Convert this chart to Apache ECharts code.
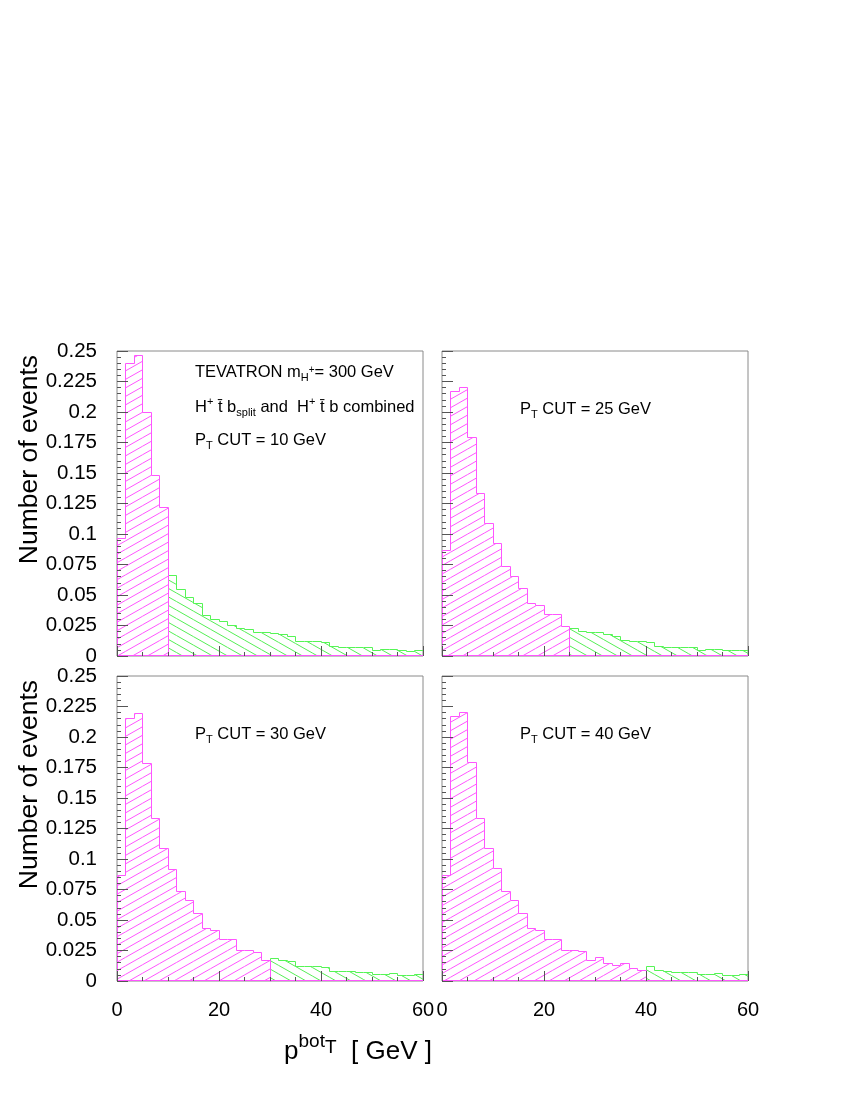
<!DOCTYPE html>
<html>
<head>
<meta charset="utf-8">
<script src="https://cdn.jsdelivr.net/npm/echarts@6/dist/echarts.min.js"></script>
<style>
  html, body { margin: 0; padding: 0; background: #fff; }
  #chart { width: 850px; height: 1100px; }
</style>
</head>
<body>
<div id="chart"></div>
<script>
// pT of the bottom quark, 36 bins over 0..60 GeV
const binCount = 36
const xMin = 0
const xMax = 60
const yMax = 0.25

const cutValues = [10, 25, 30, 40]

const cut10 = [0.0965, 0.240, 0.246, 0.200, 0.148, 0.1216,
  0.0661, 0.0546, 0.0481, 0.0429, 0.0336, 0.0301, 0.0281, 0.0251, 0.0224, 0.0219,
  0.0194, 0.0191, 0.0186, 0.0178, 0.0156, 0.0117, 0.0115, 0.0115, 0.0109, 0.0077,
  0.0071, 0.0068, 0.0068, 0.0066, 0.0046, 0.0055, 0.0055, 0.0046, 0.0038, 0.0046]
const cut25 = [0.0866, 0.2166, 0.2198, 0.1787, 0.133, 0.109, 0.0921, 0.0735, 0.065,
  0.0555, 0.0432, 0.041, 0.0342, 0.0342, 0.024,
  0.0227, 0.0197, 0.0194, 0.0189, 0.0178, 0.0156, 0.0123, 0.0117, 0.0117, 0.0109,
  0.0077, 0.0071, 0.0068, 0.0068, 0.0066, 0.0046, 0.0055, 0.0055, 0.0046, 0.0041, 0.0049]
const cut30 = [0.0861, 0.2155, 0.2193, 0.1782, 0.133, 0.1088, 0.0913, 0.0735, 0.0656,
  0.0555, 0.0432, 0.041, 0.0344, 0.0344, 0.0254, 0.0254, 0.0235, 0.0164,
  0.0186, 0.0172, 0.0156, 0.012, 0.0115, 0.0115, 0.0109, 0.0079, 0.0074, 0.0074,
  0.0071, 0.0071, 0.0055, 0.0055, 0.006, 0.0049, 0.0044, 0.0055]
const cut40 = [0.0866, 0.2166, 0.2198, 0.1787, 0.133, 0.109, 0.0921, 0.0735, 0.0656,
  0.0555, 0.0432, 0.041, 0.0342, 0.0342, 0.0254, 0.0246, 0.024, 0.0164, 0.0194,
  0.0145, 0.0128, 0.0145, 0.0104, 0.0082,
  0.0115, 0.0082, 0.0074, 0.0071, 0.0068, 0.0066, 0.0055, 0.0055, 0.0063, 0.0049, 0.0044, 0.0055]

const panelValues = [cut10, cut25, cut30, cut40]

const font = "'Liberation Sans', Arial, Helvetica, sans-serif"
const magenta = '#ff55ff'
const green = '#55f555'

// panel frames (px)
const boxes = [
  {left: 117, top: 351}, {left: 442, top: 351},
  {left: 117, top: 676}, {left: 442, top: 676}
]
const boxW = 306
const boxH = 305

// hatch tile, lines of slope 17/30, 8.5px apart vertically
const hatch = (color, dir) => {
  const w = 30, h = 17
  const c = document.createElement('canvas')
  c.width = w
  c.height = h
  const ctx = c.getContext('2d')
  ctx.strokeStyle = color
  ctx.lineWidth = 1
  for (let j = -2; j <= 4; j++) {
    const off = j * 8.5
    ctx.beginPath()
    if (dir > 0) {
      ctx.moveTo(0, off + h)
      ctx.lineTo(w, off)
    } else {
      ctx.moveTo(0, off)
      ctx.lineTo(w, off + h)
    }
    ctx.stroke()
  }
  return {image: c, repeat: 'repeat'}
}
const magentaFill = hatch('#ff55ff', 1)
const greenFill = hatch('#55ee55', -1)

const snap = v => Math.round(v - 0.5) + 0.5

const binData = (values, from, to) => {
  const w = (xMax - xMin) / binCount
  const out = []
  for (let i = from; i < to; i++) {
    const prev = i === from ? 0 : values[i - 1]
    out.push([xMin + i * w, xMin + (i + 1) * w, values[i], prev, i === to - 1 ? 1 : 0])
  }
  return out
}

const makeRender = (fill, stroke, baseline) => (params, api) => {
  const x0 = api.value(0), x1 = api.value(1), y = api.value(2)
  const prev = api.value(3), last = api.value(4)
  const pTop = api.coord([x0, y])
  const pEnd = api.coord([x1, y])
  const pBase = api.coord([x1, 0])
  const pPrev = api.coord([x0, prev])
  const pts = [[snap(pPrev[0]), snap(pPrev[1])], [snap(pTop[0]), snap(pTop[1])], [snap(pEnd[0]), snap(pEnd[1])]]
  if (last) pts.push([snap(pBase[0]), snap(pBase[1])])
  const children = [
    {type: 'rect', shape: {x: pTop[0], y: pTop[1], width: pEnd[0] - pTop[0], height: pBase[1] - pTop[1]},
      style: {fill: fill, stroke: null}},
    {type: 'polyline', shape: {points: pts}, style: {fill: null, stroke: stroke, lineWidth: 1}}
  ]
  if (last && baseline) {
    const pFar = api.coord([xMax, 0])
    const p0 = api.coord([xMin, 0])
    children.push({type: 'line', shape: {x1: p0[0], y1: snap(p0[1]) - 1, x2: pFar[0], y2: snap(pFar[1]) - 1},
      style: {stroke: stroke, lineWidth: 1}})
  }
  return {type: 'group', children: children}
}

const grids = [], xAxes = [], yAxes = [], series = []
boxes.forEach((b, i) => {
  grids.push({left: b.left, top: b.top, width: boxW, height: boxH, show: true,
    borderColor: '#8a8a8a', borderWidth: 1, backgroundColor: 'transparent', outerBoundsMode: 'none'})
  xAxes.push({
    gridIndex: i, type: 'value', min: xMin, max: xMax, interval: 20, z: 5,
    axisLine: {show: false},
    axisTick: {inside: true, length: 10, lineStyle: {color: '#555', width: 1}},
    minorTick: {show: true, splitNumber: 4, length: 4, lineStyle: {color: '#555', width: 1}},
    splitLine: {show: false}, minorSplitLine: {show: false},
    axisLabel: {show: i >= 2, margin: 19, fontSize: 20, color: '#000', fontFamily: font,
      showMinLabel: true, showMaxLabel: true}
  })
  yAxes.push({
    gridIndex: i, type: 'value', min: 0, max: yMax, interval: 0.025, z: 5,
    axisLine: {show: false},
    axisTick: {inside: true, length: 11, lineStyle: {color: '#555', width: 1}},
    minorTick: {show: true, splitNumber: 5, length: 4, lineStyle: {color: '#555', width: 1}},
    splitLine: {show: false}, minorSplitLine: {show: false},
    axisLabel: {show: i % 2 === 0, margin: 20, fontSize: 20.5, color: '#000', fontFamily: font,
      showMinLabel: true, showMaxLabel: true}
  })
  const values = panelValues[i]
  const cutBin = Math.round(cutValues[i] / ((xMax - xMin) / binCount))
  series.push({
    type: 'custom', xAxisIndex: i, yAxisIndex: i, z: 2, clip: true, silent: true,
    renderItem: makeRender(greenFill, green, false),
    data: binData(values, cutBin, binCount)
  })
  series.push({
    type: 'custom', xAxisIndex: i, yAxisIndex: i, z: 3, clip: false, silent: true,
    renderItem: makeRender(magentaFill, magenta, true),
    data: binData(values, 0, cutBin)
  })
})

const annRich = {
  n: {fontSize: 16.5, fontFamily: font, fill: '#000'},
  sub: {fontSize: 11, fontFamily: font, fill: '#000', padding: [11, 0, 0, 0]},
  sup: {fontSize: 11, fontFamily: font, fill: '#000', padding: [0, 0, 10, 0]},
  subsup: {fontSize: 10, fontFamily: font, fill: '#000', padding: [0, 0, 3, 0]}
}
const cutText = v => `{n|P}{sub|T}{n| CUT = ${v} GeV}`
const annotation = (x, y, text) => ({
  type: 'text', x: x, y: y, z: 10, silent: true,
  style: {text: text, rich: annRich, align: 'left', verticalAlign: 'middle'}
})

const graphics = [
  annotation(195, 372, '{n|TEVATRON m}{sub|H}{subsup|+}{n|= 300 GeV}'),
  annotation(195, 407, '{n|H}{sup|+}{n| t\u0304 b}{sub|split}{n| and  H}{sup|+}{n| t\u0304 b combined}'),
  annotation(195, 440, cutText(cutValues[0])),
  annotation(520, 409, cutText(cutValues[1])),
  annotation(195, 734, cutText(cutValues[2])),
  annotation(520, 734, cutText(cutValues[3])),
  {type: 'text', x: 29.5, y: 355, rotation: Math.PI / 2, silent: true,
    style: {text: 'Number of events', fontSize: 26.5, fontFamily: font, fill: '#000', align: 'right', verticalAlign: 'middle'}},
  {type: 'text', x: 29.5, y: 680, rotation: Math.PI / 2, silent: true,
    style: {text: 'Number of events', fontSize: 26.5, fontFamily: font, fill: '#000', align: 'right', verticalAlign: 'middle'}},
  {type: 'text', x: 358, y: 1052, silent: true,
    style: {
      text: '{p|p}{a|bot}{b|T}{p|  [ GeV ]}', align: 'center', verticalAlign: 'middle',
      rich: {
        p: {fontSize: 26, fontFamily: font, fill: '#000'},
        a: {fontSize: 19, fontFamily: font, fill: '#000', padding: [0, 0, 20, 0]},
        b: {fontSize: 19, fontFamily: font, fill: '#000', padding: [0, 0, 8, 0]}
      }
    }}
]

const chart = echarts.init(document.getElementById('chart'), null, {renderer: 'canvas'})
chart.setOption({
  animation: false,
  backgroundColor: '#fff',
  grid: grids,
  xAxis: xAxes,
  yAxis: yAxes,
  series: series,
  graphic: graphics
})
</script>
</body>
</html>
